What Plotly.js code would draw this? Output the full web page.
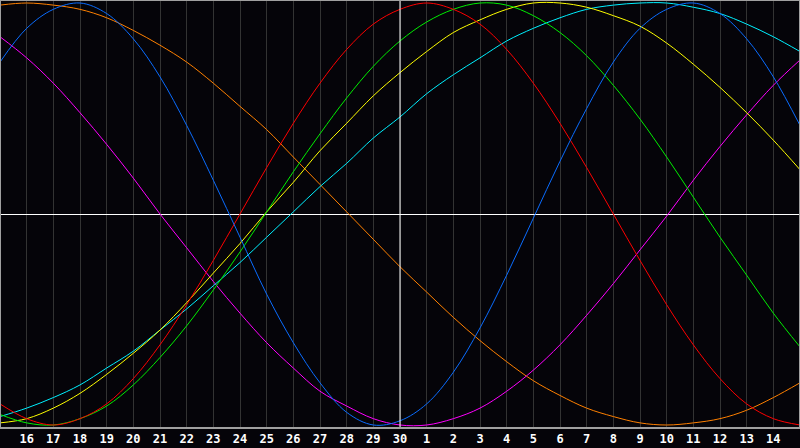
<!DOCTYPE html>
<html>
<head>
<meta charset="utf-8">
<script src="https://cdn.plot.ly/plotly-3.0.1.min.js"></script>
<style>
  html, body { margin: 0; padding: 0; background: #050409; }
  #chart { width: 800px; height: 448px; }
</style>
</head>
<body>
<div id="chart"></div>
<script>
// day index across the chart (0 = left edge, 15 = today, 30 = right edge)
var days = [0, 1, 2, 3, 4, 5, 6, 7, 8, 9, 10, 11, 12, 13, 14, 15,
            16, 17, 18, 19, 20, 21, 22, 23, 24, 25, 26, 27, 28, 29, 30];
var tickDays = [1, 2, 3, 4, 5, 6, 7, 8, 9, 10, 11, 12, 13, 14, 15,
                16, 17, 18, 19, 20, 21, 22, 23, 24, 25, 26, 27, 28, 29];
var tickLabels = ['16', '17', '18', '19', '20', '21', '22', '23', '24', '25', '26', '27', '28', '29', '30',
                  '1', '2', '3', '4', '5', '6', '7', '8', '9', '10', '11', '12', '13', '14'];

// cycle values, one per day (-1 .. 1)
var blue = [0.72, 0.88, 0.97, 1.00, 0.95, 0.83, 0.65, 0.42, 0.16, -0.11, -0.38, -0.61, -0.80, -0.94, -1.00, -0.98,
            -0.90, -0.75, -0.54, -0.29, -0.02, 0.25, 0.50, 0.72, 0.88, 0.97, 1.00, 0.95, 0.83, 0.65, 0.42];
var red = [-0.90, -0.97, -1.00, -0.97, -0.90, -0.78, -0.62, -0.43, -0.22, 0.00, 0.22, 0.43, 0.62, 0.78, 0.90, 0.97,
           1.00, 0.97, 0.90, 0.78, 0.62, 0.43, 0.22, 0.00, -0.22, -0.43, -0.62, -0.78, -0.90, -0.97, -1.00];
var green = [-0.95, -0.99, -1.00, -0.97, -0.91, -0.81, -0.68, -0.53, -0.36, -0.18, 0.01, 0.20, 0.38, 0.55, 0.70, 0.82,
             0.91, 0.97, 1.00, 0.99, 0.94, 0.86, 0.75, 0.61, 0.45, 0.27, 0.08, -0.11, -0.29, -0.47, -0.63];
var magenta = [0.84, 0.74, 0.62, 0.48, 0.33, 0.17, 0.00, -0.16, -0.32, -0.47, -0.61, -0.73, -0.84, -0.91, -0.97, -1.00,
               -1.00, -0.97, -0.92, -0.84, -0.74, -0.62, -0.48, -0.33, -0.17, -0.01, 0.16, 0.32, 0.47, 0.61, 0.73];
var yellow = [-0.99, -0.97, -0.92, -0.85, -0.76, -0.66, -0.55, -0.42, -0.28, -0.14, 0.01, 0.15, 0.30, 0.43, 0.56, 0.67,
              0.77, 0.86, 0.92, 0.97, 1.00, 1.00, 0.98, 0.94, 0.89, 0.81, 0.71, 0.60, 0.48, 0.35, 0.21];
var orange = [0.99, 1.00, 0.99, 0.97, 0.93, 0.87, 0.80, 0.72, 0.62, 0.51, 0.40, 0.27, 0.14, 0.01, -0.12, -0.25,
              -0.37, -0.49, -0.60, -0.70, -0.79, -0.86, -0.92, -0.96, -0.99, -1.00, -0.99, -0.97, -0.93, -0.87, -0.80];
var cyan = [-0.96, -0.92, -0.87, -0.81, -0.73, -0.65, -0.55, -0.45, -0.34, -0.23, -0.11, 0.01, 0.13, 0.24, 0.36, 0.46,
            0.57, 0.66, 0.74, 0.82, 0.88, 0.93, 0.97, 0.99, 1.00, 1.00, 0.98, 0.95, 0.90, 0.84, 0.77];

var series = [
  { y: orange,  color: '#ff8000' },
  { y: magenta, color: '#ff00ff' },
  { y: cyan,    color: '#00f0ff' },
  { y: yellow,  color: '#ffff00' },
  { y: green,   color: '#00ee00' },
  { y: red,     color: '#ff0000' },
  { y: blue,    color: '#0a6cff' }
];

var data = series.map(function (s) {
  return {
    type: 'scatter',
    mode: 'lines',
    x: days,
    y: s.y,
    line: { color: s.color, width: 1, shape: 'spline', smoothing: 1 },
    hoverinfo: 'skip'
  };
});

var layout = {
  width: 800,
  height: 448,
  margin: { l: 0, r: 0, t: 0, b: 20 },
  paper_bgcolor: '#050409',
  plot_bgcolor: '#050409',
  showlegend: false,
  xaxis: {
    range: [0, 30],
    tickvals: tickDays,
    ticktext: tickLabels,
    showgrid: true,
    gridcolor: '#333333',
    gridwidth: 1,
    zeroline: false,
    ticks: '',
    ticklabelstandoff: 2,
    tickfont: { family: 'DejaVu Sans Mono', size: 12, color: '#ffffff', weight: 'bold' },
    fixedrange: true
  },
  yaxis: {
    range: [-1.0142, 1.0142],
    showgrid: false,
    showticklabels: false,
    zeroline: true,
    zerolinecolor: '#ffffff',
    zerolinewidth: 1,
    fixedrange: true
  },
  shapes: [
    { type: 'line', xref: 'x', yref: 'paper', x0: 15, x1: 15, y0: 0, y1: 1,
      line: { color: '#ffffff', width: 1 }, layer: 'above' },
    { type: 'rect', xref: 'paper', yref: 'paper', x0: 0, x1: 1, y0: 0, y1: 1,
      line: { color: '#a0a0a0', width: 2 } }
  ]
};

Plotly.newPlot('chart', data, layout, { staticPlot: true, displayModeBar: false });
</script>
</body>
</html>
